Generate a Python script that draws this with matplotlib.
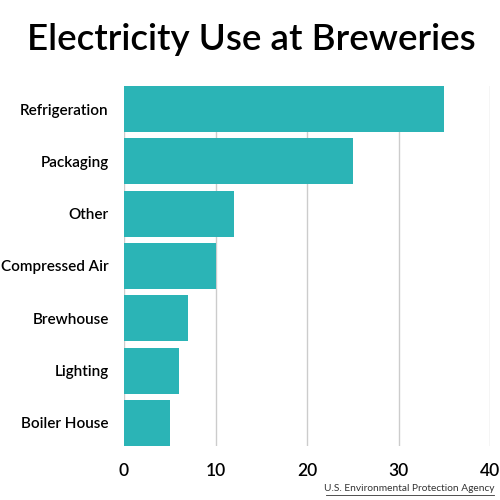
import matplotlib.pyplot as plt

categories = ['Refrigeration', 'Packaging', 'Other', 'Compressed Air',
              'Brewhouse', 'Lighting', 'Boiler House']
values = [35, 25, 12, 10, 7, 6, 5]
xticks = [0, 10, 20, 30, 40]

plt.rcParams['font.family'] = ['Lato', 'DejaVu Sans']

fig = plt.figure(figsize=(5, 5), dpi=100)
ax = fig.add_axes([0.248, 0.108, 0.732, 0.72])

ypos = list(range(len(categories)))[::-1]
ax.barh(ypos, values, height=0.88, color='#2bb4b6', zorder=3)

ax.set_xlim(0, 40)
ax.set_ylim(-0.44, len(categories) - 0.56)
ax.set_xticks(xticks)
ax.set_xticklabels([str(t) for t in xticks], fontsize=12.5, fontweight='semibold')
ax.set_yticks(ypos)
ax.set_yticklabels(categories, fontsize=11, fontweight='semibold')
ax.tick_params(length=0, pad=12)
ax.tick_params(axis='y', pad=11)

ax.grid(axis='x', color='#cccccc', linewidth=1, zorder=0)
for s in ax.spines.values():
    s.set_visible(False)

fig.text(0.503, 0.922, 'Electricity Use at Breweries', ha='center', va='center',
         fontsize=26.5, fontweight='semibold')
fig.text(0.988, 0.018, 'U.S. Environmental Protection Agency', ha='right',
         va='baseline', fontsize=7.3, color='#333333')
fig.add_artist(plt.Line2D([0.652, 0.988], [0.011, 0.011], color='#333333',
                          linewidth=0.6))

fig.savefig('out.png', dpi=100, facecolor='white')
